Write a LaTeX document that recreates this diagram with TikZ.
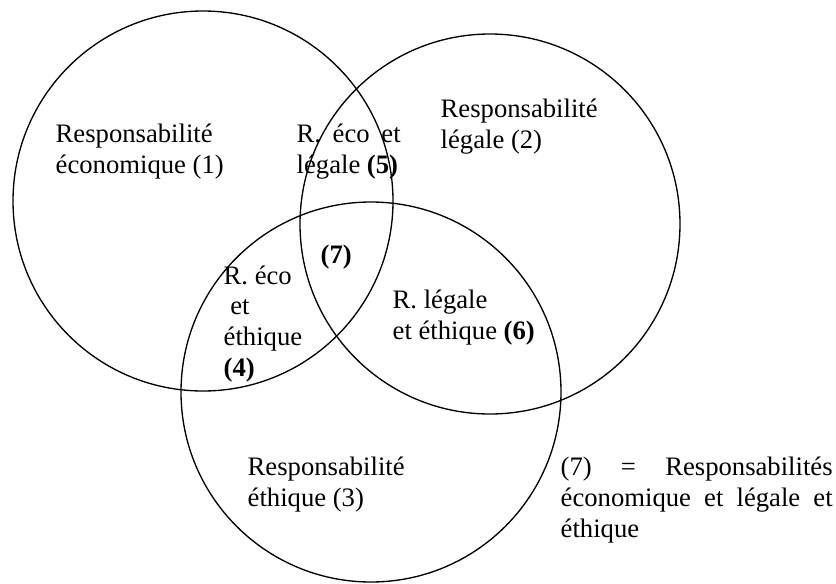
\documentclass[tikz,border=0pt]{standalone}
\usepackage{fontspec}
\setmainfont{Liberation Serif}
\tikzset{
	zone/.style={align=left, inner sep=0pt, anchor=base west, font=\fontsize{20}{23}\selectfont},
}
\begin{document}
\begin{tikzpicture}[x=0.75pt, y=-0.75pt, line width=1pt]
	\useasboundingbox (0,0) rectangle (836,583);
	
	\coordinate (eco) at (203,201);
	\coordinate (leg) at (490,224);
	\coordinate (eth) at (371,392);
	\draw (eco) circle [radius=190];
	\draw (leg) circle [radius=190];
	\draw (eth) circle [radius=190];
	
	% base = last line
	\node[zone] (z1) at (55,173) {Responsabilité\\économique (1)};
	\node[zone] (z2) at (440,148) {Responsabilité\\légale (2)};
	\node[zone] (z3) at (247,506) {Responsabilité\\éthique (3)};
	\node[zone] (z5) at (296,173) {\makebox[78pt][s]{R. éco et}\\légale \textbf{(5)}};
	\node[zone] (z4) at (223,376) {R. éco\\\hspace{5pt}et\\éthique\\\textbf{(4)}};
	\node[zone] (z6) at (392,339) {R. légale\\et éthique \textbf{(6)}};
	\node[zone] (z7) at (320,263) {\textbf{(7)}};
	
	%	legende
	\node[zone] (leg7) at (560,537) {\makebox[204pt][s]{(7) = Responsabilités}\\\makebox[204pt][s]{économique et légale et}\\éthique};
	
\end{tikzpicture}
\end{document}
